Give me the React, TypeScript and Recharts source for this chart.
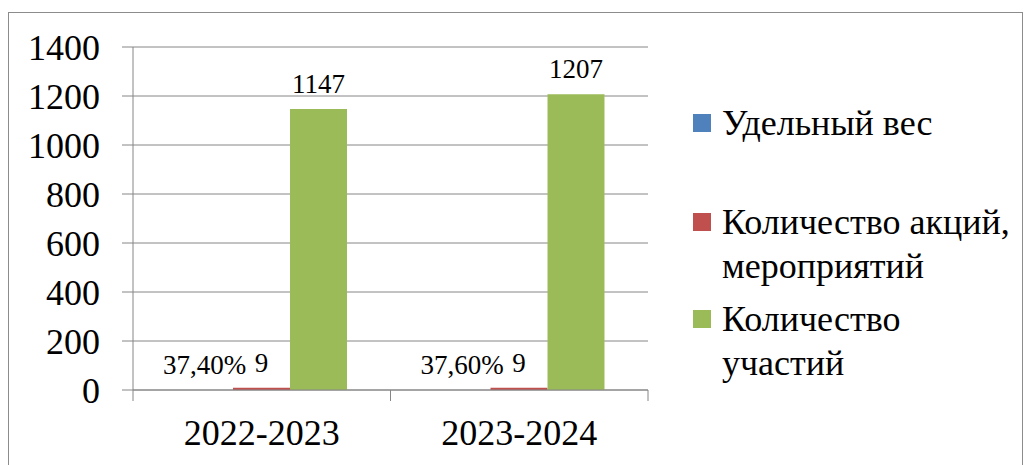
import React from 'react';
import { BarChart, Bar, XAxis, YAxis, CartesianGrid, Legend, LabelList } from 'recharts';

const categories = ['2022-2023', '2023-2024'];
const shareValues = [0.374, 0.376];
const eventValues = [9, 9];
const participationValues = [1147, 1207];
const yTicks = [0, 200, 400, 600, 800, 1000, 1200, 1400];

const seriesNames = ['Удельный вес', 'Количество акций, мероприятий', 'Количество участий'];
const seriesColors = ['#4F81BD', '#C0504D', '#9BBB59'];

const data = categories.map((cat, i) => ({
  name: cat,
  share: shareValues[i],
  events: eventValues[i],
  people: participationValues[i],
}));

const FONT = "'Liberation Serif', 'Times New Roman', Times, 'DejaVu Serif', serif";
const GRID = '#868686';

const CHART_W = 1023;
const CHART_H = 457;
const Y_AXIS_W = 125;
const MARGIN = { top: 39, right: 383, left: 0, bottom: 15 };
const HALF_BAND = (CHART_W - MARGIN.left - MARGIN.right - Y_AXIS_W) / categories.length / 2;

const formatShare = (v: any) => (Number(v) * 100).toFixed(2).replace('.', ',') + '%';

// x ticks sit on category boundaries, like the Excel original
const CategoryTick = (props: any) => {
  const { x, y, payload, index } = props;
  return (
    <g>
      <line x1={x - HALF_BAND} x2={x - HALF_BAND} y1={y} y2={y + 11} stroke={GRID} />
      {index === categories.length - 1 && (
        <line x1={x + HALF_BAND} x2={x + HALF_BAND} y1={y} y2={y + 11} stroke={GRID} />
      )}
      <text x={x} y={y + 55} textAnchor="middle" style={{ fontSize: 36, fontFamily: FONT }} fill="#000">
        {payload.value}
      </text>
    </g>
  );
};

const rowHeights = [99, 97, 90];

const LegendBox = ({ payload }: any) => {
  const items = [...(payload || [])].sort(
    (a: any, b: any) => seriesNames.indexOf(a.value) - seriesNames.indexOf(b.value)
  );
  return (
    <div style={{ fontFamily: FONT, fontSize: 36, lineHeight: '44px', color: '#000' }}>
      {items.map((item: any, i: number) => (
        <div key={item.value} style={{ display: 'flex', height: rowHeights[i] }}>
          <div style={{ width: 18, height: 18, marginTop: 13, background: item.color, flexShrink: 0 }} />
          <div style={{ marginLeft: 11, width: 305 }}>{item.value}</div>
        </div>
      ))}
    </div>
  );
};

export default function App() {
  return (
    <div style={{ position: 'relative', width: CHART_W, height: CHART_H, fontFamily: FONT }}>
      <div
        style={{
          position: 'absolute',
          left: 0,
          top: 4,
          width: 1013,
          height: 470,
          border: '1px solid #8c8c8c',
          pointerEvents: 'none',
        }}
      />
      <BarChart width={CHART_W} height={CHART_H} data={data} margin={MARGIN} barCategoryGap={43} barGap={0}>
        <CartesianGrid vertical={false} stroke={GRID} />
        <XAxis
          dataKey="name"
          axisLine={{ stroke: GRID }}
          tickLine={false}
          tickSize={0}
          tickMargin={0}
          height={60}
          tick={<CategoryTick />}
        />
        <YAxis
          domain={[0, 1400]}
          ticks={yTicks}
          width={Y_AXIS_W}
          axisLine={{ stroke: GRID }}
          tickLine={{ stroke: GRID }}
          tickSize={11}
          tickMargin={22}
          tick={{ fill: '#000', fontSize: 36, style: { fontFamily: FONT } }}
        />
        <Legend
          layout="horizontal"
          align="center"
          verticalAlign="middle"
          content={<LegendBox />}
          wrapperStyle={{ left: 685, top: 93, width: 340 }}
        />
        <Bar dataKey="share" name={seriesNames[0]} fill={seriesColors[0]} isAnimationActive={false}>
          <LabelList dataKey="share" position="top" offset={16} formatter={formatShare} fill="#000" fontSize={27} style={{ fontFamily: FONT }} />
        </Bar>
        <Bar dataKey="events" name={seriesNames[1]} fill={seriesColors[1]} isAnimationActive={false}>
          <LabelList dataKey="events" position="top" offset={16} fill="#000" fontSize={27} style={{ fontFamily: FONT }} />
        </Bar>
        <Bar dataKey="people" name={seriesNames[2]} fill={seriesColors[2]} isAnimationActive={false}>
          <LabelList dataKey="people" position="top" offset={16} fill="#000" fontSize={27} style={{ fontFamily: FONT }} />
        </Bar>
      </BarChart>
    </div>
  );
}
